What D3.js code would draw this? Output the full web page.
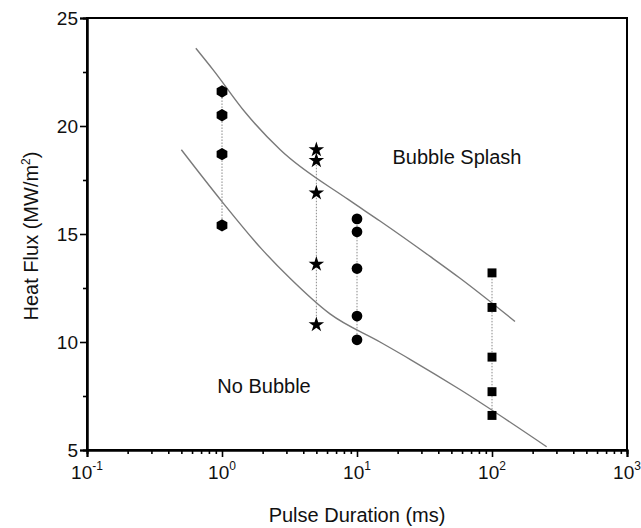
<!DOCTYPE html>
<html>
<head>
<meta charset="utf-8">
<script src="https://cdn.jsdelivr.net/npm/d3@7"></script>
<style>
  html, body { margin: 0; padding: 0; background: #fff; }
  svg { display: block; font-family: "Liberation Sans", Arial, sans-serif; }
</style>
</head>
<body>
<svg id="chart" width="641" height="528"></svg>
<script>
// Pulse durations (ms) and measured heat fluxes (MW/m^2)
const pulse1 = [21.6, 20.5, 18.7, 15.4];          // 1 ms
const pulse5 = [18.9, 18.4, 16.9, 13.6, 10.8];    // 5 ms
const pulse10 = [15.7, 15.1, 13.4, 11.2, 10.1];   // 10 ms
const pulse100 = [13.2, 11.6, 9.3, 7.7, 6.6];     // 100 ms

// Regime boundary curves [duration, heat flux]
const splashBoundary = [[0.64, 23.6], [0.86, 22.6], [1.5, 20.6], [2.7, 18.9], [8.6, 16.6],
  [14.8, 15.6], [35, 13.95], [58, 12.95], [148, 10.95]];
const bubbleBoundary = [[0.5, 18.9], [1.0, 16.5], [1.97, 14.3], [3.19, 12.95], [6.31, 11.3],
  [14.8, 10.0], [24.7, 9.2], [57.9, 7.8], [254, 5.15]];

const xMajor = [0.1, 1, 10, 100, 1000];
const xExponents = ["-1", "0", "1", "2", "3"];
const yMajor = [5, 10, 15, 20, 25];
const yMinor = [7.5, 12.5, 17.5, 22.5];

const svg = d3.select("#chart");
const x = d3.scaleLog().domain([0.1, 1000]).range([87, 627]);
const y = d3.scaleLinear().domain([5, 25]).range([450, 18]);

// minor log ticks 2..9 within each decade
const xMinor = [];
for (let d = 0.1; d < 1000; d *= 10) for (let k = 2; k <= 9; k++) xMinor.push(+(d * k).toPrecision(3));

// frame
svg.append("rect").attr("x", 87).attr("y", 18).attr("width", 540).attr("height", 432)
  .attr("fill", "none").attr("stroke", "#000").attr("stroke-width", 2);

// bottom axis ticks
const gx = svg.append("g").attr("transform", "translate(0,450)");
gx.call(d3.axisBottom(x).tickValues(xMinor).tickSize(4).tickFormat(""));
gx.append("g").call(d3.axisBottom(x).tickValues(xMajor).tickSize(7).tickFormat(""));
gx.selectAll(".domain").attr("stroke-width", 2);
gx.selectAll(".tick line").attr("stroke-width", 1.6);

// left axis ticks
const gy = svg.append("g").attr("transform", "translate(87,0)");
gy.call(d3.axisLeft(y).tickValues(yMinor).tickSize(4).tickFormat(""));
gy.append("g").call(d3.axisLeft(y).tickValues(yMajor).tickSize(7).tickFormat(d3.format("d")));
gy.selectAll(".domain").attr("stroke-width", 2);
gy.selectAll(".tick line").attr("stroke-width", 1.6);
gy.selectAll(".tick text").attr("font-size", 19).attr("font-family", "Liberation Sans, Arial, sans-serif")
  .attr("fill", "#111").attr("x", -9);

// x tick labels with superscript exponents
const xl = svg.append("g").selectAll("text").data(xMajor).join("text")
  .attr("x", d => x(d)).attr("y", 479)
  .attr("text-anchor", "middle").attr("font-size", 19).attr("fill", "#111");
xl.append("tspan").text("10");
xl.append("tspan").attr("dy", -9).attr("font-size", 12).text((d, i) => xExponents[i]);

// axis titles
svg.append("text").attr("x", 357).attr("y", 522).attr("text-anchor", "middle")
  .attr("font-size", 20).attr("fill", "#111").text("Pulse Duration (ms)");
const yt = svg.append("text").attr("transform", "translate(38,236) rotate(-90)")
  .attr("text-anchor", "middle").attr("font-size", 20).attr("fill", "#111");
yt.append("tspan").text("Heat Flux (MW/m");
yt.append("tspan").attr("dy", -8).attr("font-size", 12).text("2");
yt.append("tspan").attr("dy", 8).text(")");

// boundary curves
const line = d3.line().x(d => x(d[0])).y(d => y(d[1])).curve(d3.curveMonotoneX);
[splashBoundary, bubbleBoundary].forEach(c => {
  svg.append("path").datum(c).attr("d", line).attr("fill", "none")
    .attr("stroke", "#7a7a7a").attr("stroke-width", 1.4);
});

// measurement groups
const groups = [
  { t: 1, v: pulse1, sym: "hex", size: 100 },
  { t: 5, v: pulse5, sym: d3.symbolStar, size: 75 },
  { t: 10, v: pulse10, sym: d3.symbolCircle, size: 90 },
  { t: 100, v: pulse100, sym: d3.symbolSquare, size: 80 }
];
const hexPath = s => {
  const r = Math.sqrt(s / 2.6);
  return d3.range(6).map(i => {
    const a = Math.PI / 6 + i * Math.PI / 3;
    return [r * Math.cos(a), r * Math.sin(a)];
  }).map((p, i) => (i ? "L" : "M") + p[0].toFixed(2) + "," + p[1].toFixed(2)).join("") + "Z";
};
groups.forEach(g => {
  svg.append("line").attr("x1", x(g.t)).attr("x2", x(g.t))
    .attr("y1", y(d3.max(g.v))).attr("y2", y(d3.min(g.v)))
    .attr("stroke", "#888").attr("stroke-width", 1).attr("stroke-dasharray", "1.5,1.5");
  svg.append("g").selectAll("path").data(g.v).join("path")
    .attr("transform", d => `translate(${x(g.t)},${y(d)})`)
    .attr("d", g.sym === "hex" ? hexPath(g.size) : d3.symbol().type(g.sym).size(g.size)())
    .attr("fill", "#000");
});

// regime labels
svg.append("text").attr("x", 457).attr("y", 164).attr("text-anchor", "middle")
  .attr("font-size", 20).attr("fill", "#111").text("Bubble Splash");
svg.append("text").attr("x", 264).attr("y", 393).attr("text-anchor", "middle")
  .attr("font-size", 20).attr("fill", "#111").text("No Bubble");
</script>
</body>
</html>
